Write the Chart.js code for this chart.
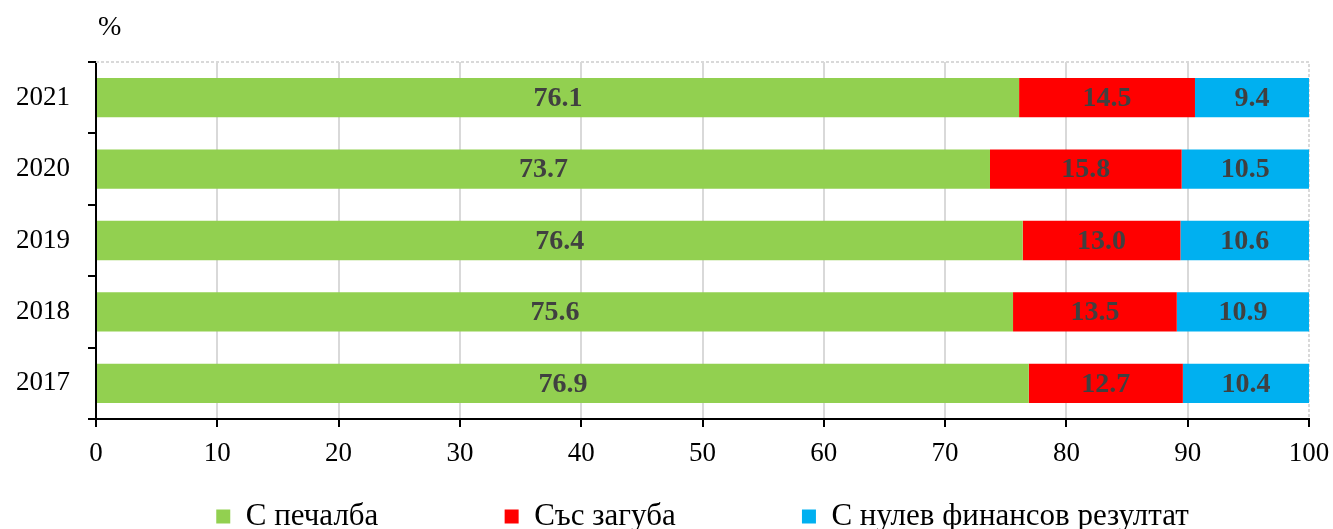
<!DOCTYPE html>
<html>
<head>
<meta charset="utf-8">
<script src="https://cdn.jsdelivr.net/npm/chart.js@4/dist/chart.umd.min.js"></script>
<style>
html,body{margin:0;padding:0;background:#fff;}
#wrap{width:1333px;height:529px;}
</style>
</head>
<body>
<div id="wrap"><canvas id="c" width="1333" height="529"></canvas></div>
<script>
const categories = ['2021', '2020', '2019', '2018', '2017'];
const profitValues = [76.1, 73.7, 76.4, 75.6, 76.9];
const lossValues = [14.5, 15.8, 13.0, 13.5, 12.7];
const zeroValues = [9.4, 10.5, 10.6, 10.9, 10.4];
const seriesNames = ['С печалба', 'Със загуба', 'С нулев финансов резултат'];
const xTicks = [0, 10, 20, 30, 40, 50, 60, 70, 80, 90, 100];
const unitLabel = '%';

const SERIF = '"Liberation Serif", "Times New Roman", serif';

const extrasPlugin = {
  id: 'extras',
  beforeDatasetsDraw(chart) {
    const {ctx, chartArea: a} = chart;
    ctx.save();
    ctx.strokeStyle = '#d9d9d9';
    ctx.lineWidth = 2;
    ctx.setLineDash([3, 2]);
    ctx.beginPath();
    ctx.moveTo(a.left, a.top);
    ctx.lineTo(a.right, a.top);
    ctx.lineTo(a.right, a.bottom);
    ctx.stroke();
    ctx.restore();
  },
  afterDatasetsDraw(chart) {
    const {ctx} = chart;
    ctx.save();
    ctx.font = 'bold 28px ' + SERIF;
    ctx.fillStyle = '#404040';
    ctx.textAlign = 'center';
    ctx.textBaseline = 'middle';
    chart.data.datasets.forEach((ds, di) => {
      const meta = chart.getDatasetMeta(di);
      meta.data.forEach((bar, i) => {
        const x = (bar.x + bar.base) / 2;
        ctx.fillText(Number(ds.data[i]).toFixed(1), x, bar.y + 1);
      });
    });
    ctx.font = '28px ' + SERIF;
    ctx.fillStyle = '#000';
    ctx.textAlign = 'left';
    ctx.fillText(unitLabel, chart.chartArea.left + 2, 28);
    ctx.restore();
  }
};

const pad = '\u2002'.repeat(7) + ' ';

new Chart(document.getElementById('c'), {
  type: 'bar',
  data: {
    labels: categories,
    datasets: [
      {label: seriesNames[0], data: profitValues, backgroundColor: '#92D050'},
      {label: seriesNames[1], data: lossValues, backgroundColor: '#FF0000'},
      {label: seriesNames[2], data: zeroValues, backgroundColor: '#00B0F0'}
    ]
  },
  options: {
    indexAxis: 'y',
    responsive: false,
    animation: false,
    devicePixelRatio: 1,
    layout: {padding: {top: 62, right: 24, left: 0, bottom: 0}},
    datasets: {bar: {categoryPercentage: 1, barPercentage: 0.55, borderWidth: 0}},
    scales: {
      x: {
        stacked: true,
        min: 0, max: 100,
        afterBuildTicks(scale) { scale.ticks = xTicks.map(v => ({value: v})); },
        afterFit(scale) { scale.height = 72; scale.paddingRight = 0; scale.paddingLeft = 0; },
        grid: {
          color: (c) => (c.tick && (c.tick.value === 0 || c.tick.value === 100)) ? 'rgba(0,0,0,0)' : '#d9d9d9',
          tickColor: '#000',
          lineWidth: 2,
          tickLength: 8
        },
        border: {color: '#000', width: 2},
        ticks: {color: '#000', font: {family: SERIF, size: 27}, padding: 11, maxRotation: 0}
      },
      y: {
        stacked: true,
        afterFit(scale) { scale.width = 96; },
        grid: {drawOnChartArea: false, color: '#000', lineWidth: 2, tickLength: 8, offset: true},
        border: {color: '#000', width: 2},
        ticks: {color: '#000', font: {family: SERIF, size: 27}, padding: 18}
      }
    },
    plugins: {
      tooltip: {enabled: false},
      legend: {
        position: 'bottom',
        fullSize: false,
        maxHeight: 38,
        labels: {
          boxWidth: 14, boxHeight: 14, padding: 10,
          color: '#000',
          font: {family: SERIF, size: 31},
          generateLabels(chart) {
            const items = Chart.defaults.plugins.legend.labels.generateLabels(chart);
            items.forEach((it, i) => { it.lineWidth = 0; if (i < items.length - 1) it.text = it.text + pad; });
            return items;
          }
        }
      }
    }
  },
  plugins: [extrasPlugin]
});
</script>
</body>
</html>
